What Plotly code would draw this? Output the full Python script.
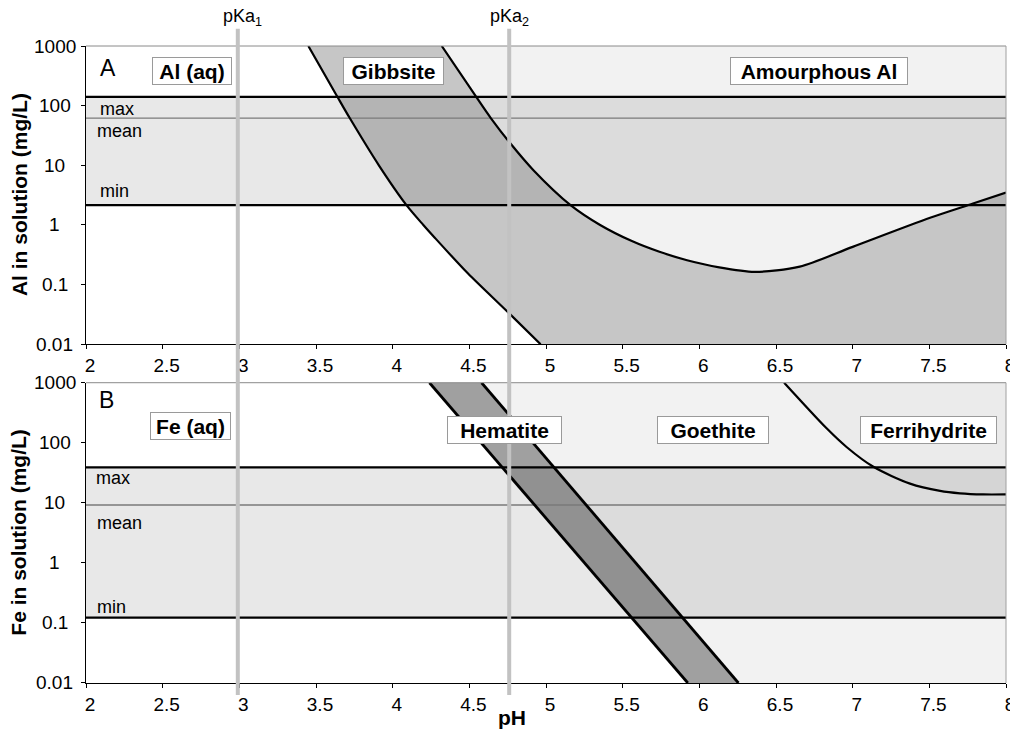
import math
import plotly.graph_objects as go

# ---------------- data ----------------
ph_ticks = [2, 2.5, 3, 3.5, 4, 4.5, 5, 5.5, 6, 6.5, 7, 7.5, 8]
ph_tick_text = ["2", "2.5", "3", "3.5", "4", "4.5", "5", "5.5", "6", "6.5", "7", "7.5", "8"]
conc_ticks = [0.01, 0.1, 1, 10, 100, 1000]
conc_tick_text = ["0.01", "0.1", "1", "10", "100", "1000"]

pka_values = [2.99, 4.76]
pka_labels = ["pKa<sub>1</sub>", "pKa<sub>2</sub>"]

# Panel A (Al)
al_max, al_mean, al_min = 140, 62, 2.15
gibbsite_ph = [3.45, 3.64, 3.72, 3.91, 4.09, 4.20, 4.27, 4.49, 4.76, 4.965]
gibbsite_al = [1000, 140, 62, 10, 2.15, 1.0, 0.63, 0.155, 0.033, 0.01]
amorph_ph = [4.32, 4.545, 4.64, 4.767, 4.918, 5.16, 5.353, 5.56, 5.74, 5.92, 6.13, 6.36, 6.655, 7.00, 7.505, 7.785, 8.0]
amorph_al = [1000, 140, 62, 23.4, 8.28, 2.15, 1.0, 0.537, 0.355, 0.257, 0.195, 0.164, 0.2, 0.43, 1.32, 2.29, 3.5]

# Panel B (Fe)
fe_max, fe_mean, fe_min = 39, 9.2, 0.123
hem_left_ph = [4.24, 5.925]
hem_left_fe = [1000, 0.01]
hem_right_ph = [4.58, 6.255]
hem_right_fe = [1000, 0.01]
ferri_ph = [6.553, 6.83, 6.96, 7.135, 7.374, 7.57, 7.70, 7.85, 8.0]
ferri_fe = [1000, 174, 85.1, 39.8, 20.9, 15.8, 14.4, 13.8, 13.8]

FONT = "Liberation Sans, Arial, sans-serif"

# ---------------- figure ----------------
fig = go.Figure()

def tr(panel, **kw):
    kw.setdefault("hoverinfo", "skip")
    kw.setdefault("showlegend", False)
    fig.add_trace(go.Scatter(xaxis="x" if panel == 1 else "x2",
                             yaxis="y" if panel == 1 else "y2", **kw))

# ---- Panel A fills
tr(1, x=amorph_ph + [8, amorph_ph[0]], y=amorph_al + [1000, amorph_al[0]],
   mode="none", fill="toself", fillcolor="#f2f2f2")
tr(1, x=gibbsite_ph + [8] + amorph_ph[::-1],
   y=gibbsite_al + [0.01] + amorph_al[::-1],
   mode="none", fill="toself", fillcolor="#c6c6c6")
tr(1, x=[2, 8, 8, 2, 2], y=[al_min, al_min, al_max, al_max, al_min],
   mode="none", fill="toself", fillcolor="rgba(0,0,0,0.09)")
# band lines
tr(1, x=[2, 8], y=[al_max, al_max], mode="lines", line=dict(color="black", width=2.2))
tr(1, x=[2, 8], y=[al_mean, al_mean], mode="lines", line=dict(color="#7a7a7a", width=1.3))
tr(1, x=[2, 8], y=[al_min, al_min], mode="lines", line=dict(color="black", width=2.2))
# curves
tr(1, x=gibbsite_ph, y=gibbsite_al, mode="lines",
   line=dict(color="black", width=2.2, shape="spline", smoothing=0.8))
tr(1, x=amorph_ph, y=amorph_al, mode="lines",
   line=dict(color="black", width=2.2, shape="spline", smoothing=0.8))

# ---- Panel B fills
tr(2, x=hem_right_ph + [8, 8, hem_right_ph[0]], y=hem_right_fe + [0.01, 1000, hem_right_fe[0]],
   mode="none", fill="toself", fillcolor="#f2f2f2")
tr(2, x=ferri_ph + [8, ferri_ph[0]], y=ferri_fe + [1000, ferri_fe[0]],
   mode="none", fill="toself", fillcolor="#ebebeb")
tr(2, x=hem_left_ph + hem_right_ph[::-1] + [hem_left_ph[0]],
   y=hem_left_fe + hem_right_fe[::-1] + [hem_left_fe[0]],
   mode="none", fill="toself", fillcolor="#a0a0a0")
tr(2, x=[2, 8, 8, 2, 2], y=[fe_min, fe_min, fe_max, fe_max, fe_min],
   mode="none", fill="toself", fillcolor="rgba(0,0,0,0.09)")
tr(2, x=[2, 8], y=[fe_max, fe_max], mode="lines", line=dict(color="black", width=2.2))
tr(2, x=[2, 8], y=[fe_mean, fe_mean], mode="lines", line=dict(color="#7a7a7a", width=1.3))
tr(2, x=[2, 8], y=[fe_min, fe_min], mode="lines", line=dict(color="black", width=2.2))
tr(2, x=hem_left_ph, y=hem_left_fe, mode="lines", line=dict(color="black", width=2.8))
tr(2, x=hem_right_ph, y=hem_right_fe, mode="lines", line=dict(color="black", width=2.8))
tr(2, x=ferri_ph, y=ferri_fe, mode="lines",
   line=dict(color="black", width=2.2, shape="spline", smoothing=0.8))

# ---------------- axes ----------------
# plot area: 637 px tall, starting 38 px below the figure top
TOP_DOM = [0.5317, 1.0]
BOT_DOM = [0.0, 0.4714]

xcommon = dict(range=[2, 8], tickvals=ph_ticks, ticktext=ph_tick_text, ticks="outside",
               ticklen=4, tickcolor="black", showline=True, linecolor="black", linewidth=1,
               showgrid=False, zeroline=False, tickfont=dict(family=FONT, size=19, color="black"),
               ticklabelshift=4, layer="above traces")
ycommon = dict(type="log", range=[-2, 3], tickvals=conc_ticks, ticks="outside", ticklen=4,
               tickcolor="black", showline=True, linecolor="black", linewidth=1,
               showgrid=False, zeroline=False, showticklabels=False, layer="above traces")

# the page body adds an 8px offset; margins compensate for it
fig.update_layout(
    width=1018, height=730,
    margin=dict(l=78, r=20, t=38, b=55, autoexpand=False),
    paper_bgcolor="white", plot_bgcolor="white",
    font=dict(family=FONT, size=18, color="black"),
    xaxis=dict(domain=[0, 1], anchor="y", **xcommon),
    yaxis=dict(domain=TOP_DOM, anchor="x", **ycommon),
    xaxis2=dict(domain=[0, 1], anchor="y2", **xcommon),
    yaxis2=dict(domain=BOT_DOM, anchor="x2", **ycommon),
)

shapes = []
# gray top/right borders
for xr, yr in [("x domain", "y domain"), ("x2 domain", "y2 domain")]:
    shapes.append(dict(type="line", xref=xr, yref=yr, x0=0, x1=1, y0=1, y1=1,
                       line=dict(color="#8a8a8a", width=1), layer="above"))
    shapes.append(dict(type="line", xref=xr, yref=yr, x0=1, x1=1, y0=0, y1=1,
                       line=dict(color="#a0a0a0", width=1), layer="above"))
# pKa lines
for v in pka_values:
    shapes.append(dict(type="line", xref="x", yref="paper", x0=v, x1=v, y0=-0.019, y1=1.027,
                       line=dict(color="#c2c2c2", width=4), layer="above"))
fig.update_layout(shapes=shapes)

ann = []
# y tick labels (centered as in the reference)
for yref in ["y", "y2"]:
    for v, t in zip(conc_ticks, conc_tick_text):
        ann.append(dict(xref="paper", yref=yref, x=-0.0337, y=math.log10(v), text=t,
                        showarrow=False, xanchor="center", yanchor="middle",
                        font=dict(family=FONT, size=19, color="black")))

# pKa labels
for v, t in zip([3.02, 4.76], pka_labels):
    ann.append(dict(xref="x", yref="paper", x=v, y=1.044, text=t, showarrow=False,
                    xanchor="center", yanchor="middle", font=dict(family=FONT, size=18)))

# panel letters
ann.append(dict(xref="x", yref="y", x=2.143, y=2.627, text="A", showarrow=False,
                font=dict(family=FONT, size=23)))
ann.append(dict(xref="x2", yref="y2", x=2.135, y=2.71, text="B", showarrow=False,
                font=dict(family=FONT, size=23)))

# max/mean/min labels
for yref, xs, ys in [("y", [2.078, 2.06, 2.078], [1.94, 1.575, 0.57]),
                     ("y2", [2.05, 2.06, 2.06], [1.41, 0.665, -0.73])]:
    for xv, yv, t in zip(xs, ys, ["max", "mean", "min"]):
        ann.append(dict(xref="x" if yref == "y" else "x2", yref=yref, x=xv, y=yv, text=t,
                        showarrow=False, xanchor="left", yanchor="middle",
                        font=dict(family=FONT, size=18)))

# boxed region labels
boxes = [("x", "y", 2.694, 2.58, "Al (aq)", 76),
         ("x", "y", 4.007, 2.585, "Gibbsite", 97),
         ("x", "y", 6.78, 2.585, "Amourphous Al", 174),
         ("x2", "y2", 2.68, 2.275, "Fe (aq)", 77),
         ("x2", "y2", 4.73, 2.207, "Hematite", 111),
         ("x2", "y2", 6.087, 2.207, "Goethite", 108),
         ("x2", "y2", 7.496, 2.207, "Ferrihydrite", 133)]
for xr, yr, xv, yv, t, w in boxes:
    ann.append(dict(xref=xr, yref=yr, x=xv, y=yv, text="<b>" + t + "</b>", showarrow=False,
                    xanchor="center", yanchor="middle", width=w, height=24,
                    bgcolor="white", bordercolor="#9a9a9a", borderwidth=1, borderpad=1,
                    font=dict(family=FONT, size=21, color="black")))

# axis titles
ann.append(dict(xref="paper", yref="paper", x=-0.0728, y=0.766, text="<b>Al in solution (mg/L)</b>",
                textangle=-90, showarrow=False, xanchor="center", yanchor="middle",
                font=dict(family=FONT, size=21)))
ann.append(dict(xref="paper", yref="paper", x=-0.0728, y=0.236, text="<b>Fe in solution (mg/L)</b>",
                textangle=-90, showarrow=False, xanchor="center", yanchor="middle",
                font=dict(family=FONT, size=21)))
ann.append(dict(xref="paper", yref="paper", x=0.463, y=-0.0534, text="<b>pH</b>",
                showarrow=False, xanchor="center", yanchor="middle",
                font=dict(family=FONT, size=21)))

fig.update_layout(annotations=ann)

fig.write_html("out.html")
